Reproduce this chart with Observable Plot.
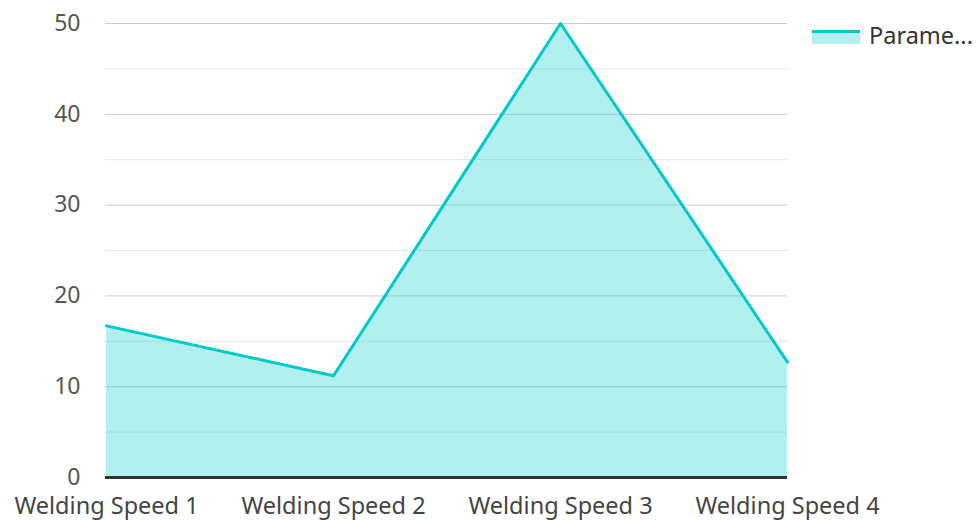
<!DOCTYPE html>
<html>
<head>
<meta charset="utf-8">
<script src="https://cdn.jsdelivr.net/npm/d3@7"></script>
<script src="https://cdn.jsdelivr.net/npm/@observablehq/plot@0.6"></script>
<style>
  html, body { margin: 0; padding: 0; background: #fff; }
  #wrap { position: relative; width: 977px; height: 520px; font-family: "Noto Sans", sans-serif; }
  #legend { position: absolute; left: 812px; top: 20px; display: flex; align-items: center; font-size: 23.5px; color: #333; line-height: 30px; }
  #legend .sw { width: 48px; height: 14px; background: rgba(0,201,201,0.3); border-top: 3px solid #00c9c9; box-sizing: border-box; margin-right: 9px; margin-top: 4px; }
</style>
</head>
<body>
<div id="wrap"><div id="legend"><span class="sw"></span><span>Parame...</span></div></div>
<script>
const categories = ["Welding Speed 1", "Welding Speed 2", "Welding Speed 3", "Welding Speed 4"];
const values = [16.7, 11.2, 50, 12.7];
const majorTicks = [0, 10, 20, 30, 40, 50];
const minorTicks = [5, 15, 25, 35, 45];
const seriesName = "Parameter";

const data = categories.map((c, i) => ({category: c, value: values[i]}));
const teal = "#00c9c9";

const chart = Plot.plot({
  width: 977,
  height: 520,
  marginLeft: 105,
  marginRight: 190,
  marginTop: 23,
  marginBottom: 43,
  style: {fontFamily: "Noto Sans, sans-serif", background: "#fff", overflow: "visible"},
  x: {type: "point", domain: categories, padding: 0},
  y: {domain: [0, 50]},
  marks: [
    Plot.ruleY(minorTicks, {stroke: "#e6e6e6", strokeWidth: 1}),
    Plot.ruleY(majorTicks.filter(d => d > 0), {stroke: "#cccccc", strokeWidth: 1}),
    Plot.areaY(data, {x: "category", y: "value", fill: teal, fillOpacity: 0.3}),
    Plot.lineY(data, {x: "category", y: "value", stroke: teal, strokeWidth: 3}),
    Plot.ruleY([0], {stroke: "#333", strokeWidth: 3}),
    Plot.axisX({tickSize: 0, tickPadding: 20, fontSize: 23.5, fill: "#444", label: null}),
    Plot.axisY({ticks: majorTicks, tickSize: 0, tickPadding: 25, fontSize: 23, fill: "#555", label: null})
  ]
});
document.getElementById("wrap").prepend(chart);
</script>
</body>
</html>
